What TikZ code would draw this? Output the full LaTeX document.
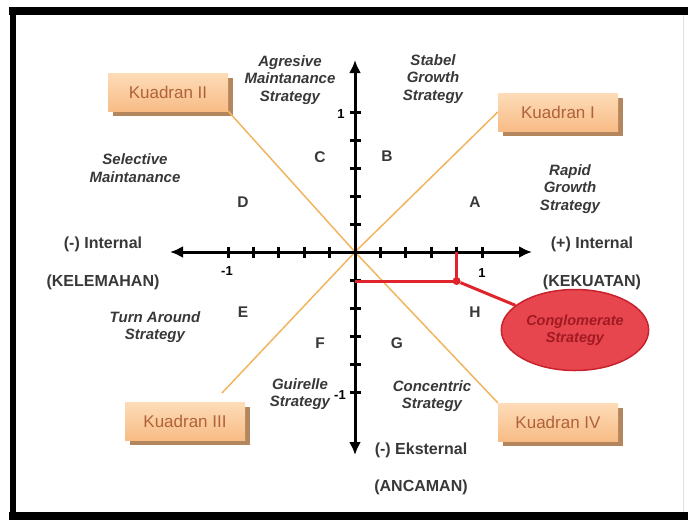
\documentclass[tikz,border=0pt]{standalone}
\usepackage{fontspec}
\setmainfont{Liberation Sans}
\usetikzlibrary{shapes,arrows.meta,positioning,calc,shadows}

\definecolor{peachlight}{HTML}{FDDCB8}
\definecolor{peachdark}{HTML}{F8BC86}
\definecolor{bevel}{HTML}{B3865E}
\definecolor{kuadtext}{HTML}{B0623A}
\definecolor{diag}{HTML}{F2B45E}
\definecolor{conglo}{HTML}{E8464E}
\definecolor{congloline}{HTML}{C9222C}
\definecolor{conglotext}{HTML}{A01A22}
\definecolor{redline}{HTML}{E0242C}
\definecolor{strat}{HTML}{383838}

\tikzset{
  kuadran/.style={rectangle, minimum width=120pt, minimum height=38pt,
    top color=peachlight, bottom color=peachdark, text=kuadtext,
    font=\fontsize{17}{19}\selectfont,
    drop shadow={shadow xshift=5pt, shadow yshift=-5pt, fill=bevel, opacity=1}},
  strategy/.style={align=center, text=strat, inner sep=1pt,
    font=\fontsize{15}{17.5}\selectfont\bfseries\itshape},
  letter/.style={font=\fontsize{15.5}{18}\selectfont\bfseries, text=strat},
  axlabel/.style={font=\fontsize{16}{18}\selectfont\bfseries, text=strat},
  ticklabel/.style={font=\fontsize{13}{15}\selectfont\bfseries, inner sep=1pt},
  axis/.style={line width=3pt, {Latex[length=13pt,width=12pt]}-{Latex[length=13pt,width=12pt]}},
  axtick/.style={line width=3pt},
}

\begin{document}
\begin{tikzpicture}[x=1pt, y=-1pt]
    \useasboundingbox (0,0) rectangle (688,520);

    % frame
    \draw[line width=8pt] (9,11) -- (688,11);
    \draw[line width=6pt] (13,7) -- (13,520);
    \draw[line width=8pt] (9,516) -- (688,516);
    \draw[black!12, line width=1pt] (683,15) -- (683,512);

    % axes
    \coordinate (O) at (355,252);
    \coordinate (xL) at (170,252);
    \coordinate (xR) at (532,252);
    \coordinate (yT) at (355,60);
    \coordinate (yB) at (355,455);

    % Kuadran boxes
    \node[kuadran] (k2) at (168,92) {Kuadran II};
    \node[kuadran] (k1) at (558,112) {Kuadran I};
    \node[kuadran] (k3) at (185,421) {Kuadran III};
    \node[kuadran] (k4) at (558,422) {Kuadran IV};
    \coordinate (k3end) at (222,393);

    % diagonals
    \draw[diag, line width=1.5pt] (k2.south east) -- (O) -- (k4.north west);
    \draw[diag, line width=1.5pt] (k1.west) -- (O) -- (k3end);

    \draw[axis] (xL) -- (xR);
    \draw[axis] (yT) -- (yB);
    \foreach \k in {-5,...,-1,1,2,...,5} {
        \draw[axtick] ($(O)+(25.4*\k,-5.5)$) -- ++(0,11);
        \draw[axtick] ($(O)+(-5.5,28*\k)$) -- ++(11,0);
    }

    % tick labels
    \node[ticklabel] (tx1) at (482,273) {1};
    \node[ticklabel] (txm1) at (227,271) {-1};
    \node[ticklabel] (ty1) at (341,114) {1};
    \node[ticklabel] (tym1) at (340,395) {-1};

    % axis labels
    \node[axlabel] (intneg) at (103,244) {(-) Internal};
    \node[axlabel] (kelemahan) at (103,282) {(KELEMAHAN)};
    \node[axlabel] (intpos) at (592,244) {(+) Internal};
    \node[axlabel] (kekuatan) at (592,282) {(KEKUATAN)};
    \node[axlabel] (ekst) at (421,450) {(-) Eksternal};
    \node[axlabel] (ancaman) at (421,487) {(ANCAMAN)};

    % strategies
    \node[strategy] (agresive) at (290,80) {Agresive\\Maintanance\\Strategy};
    \node[strategy] (stabel) at (433,79) {Stabel\\Growth\\Strategy};
    \node[strategy] (selective) at (135,168) {Selective\\Maintanance};
    \node[strategy] (rapid) at (570,189) {Rapid\\Growth\\Strategy};
    \node[strategy] (turn) at (155,327) {Turn Around\\Strategy};
    \node[strategy] (guirelle) at (300,394) {Guirelle\\Strategy};
    \node[strategy] (concentric) at (432,396) {Concentric\\Strategy};

    % letters
    \node[letter] (lC) at (320,157) {C};
    \node[letter] (lD) at (243,202) {D};
    \node[letter] (lB) at (387,156) {B};
    \node[letter] (lA) at (475,202) {A};
    \node[letter] (lE) at (243,312) {E};
    \node[letter] (lF) at (320,343) {F};
    \node[letter] (lG) at (397,343) {G};
    \node[letter] (lH) at (475,312) {H};

    % conglomerate position
    \coordinate (r0) at (355,281);
    \coordinate (r1) at (456.6,252);
    \node[ellipse, fill=conglo, draw=congloline, line width=1.5pt,
          minimum width=141pt, minimum height=81pt, align=center,
          text=conglotext, font=\fontsize{14.5}{17}\selectfont\bfseries\itshape]
          (cong) at (575,330) {Conglomerate\\Strategy};
    \node[circle, fill=redline, inner sep=0pt, minimum size=8pt] (dot) at (456.6,281) {};
    \draw[redline, line width=3pt] (r0) -- (dot.center) -- (r1);
    \draw[redline, line width=3pt] (dot) -- (cong);
\end{tikzpicture}
\end{document}
